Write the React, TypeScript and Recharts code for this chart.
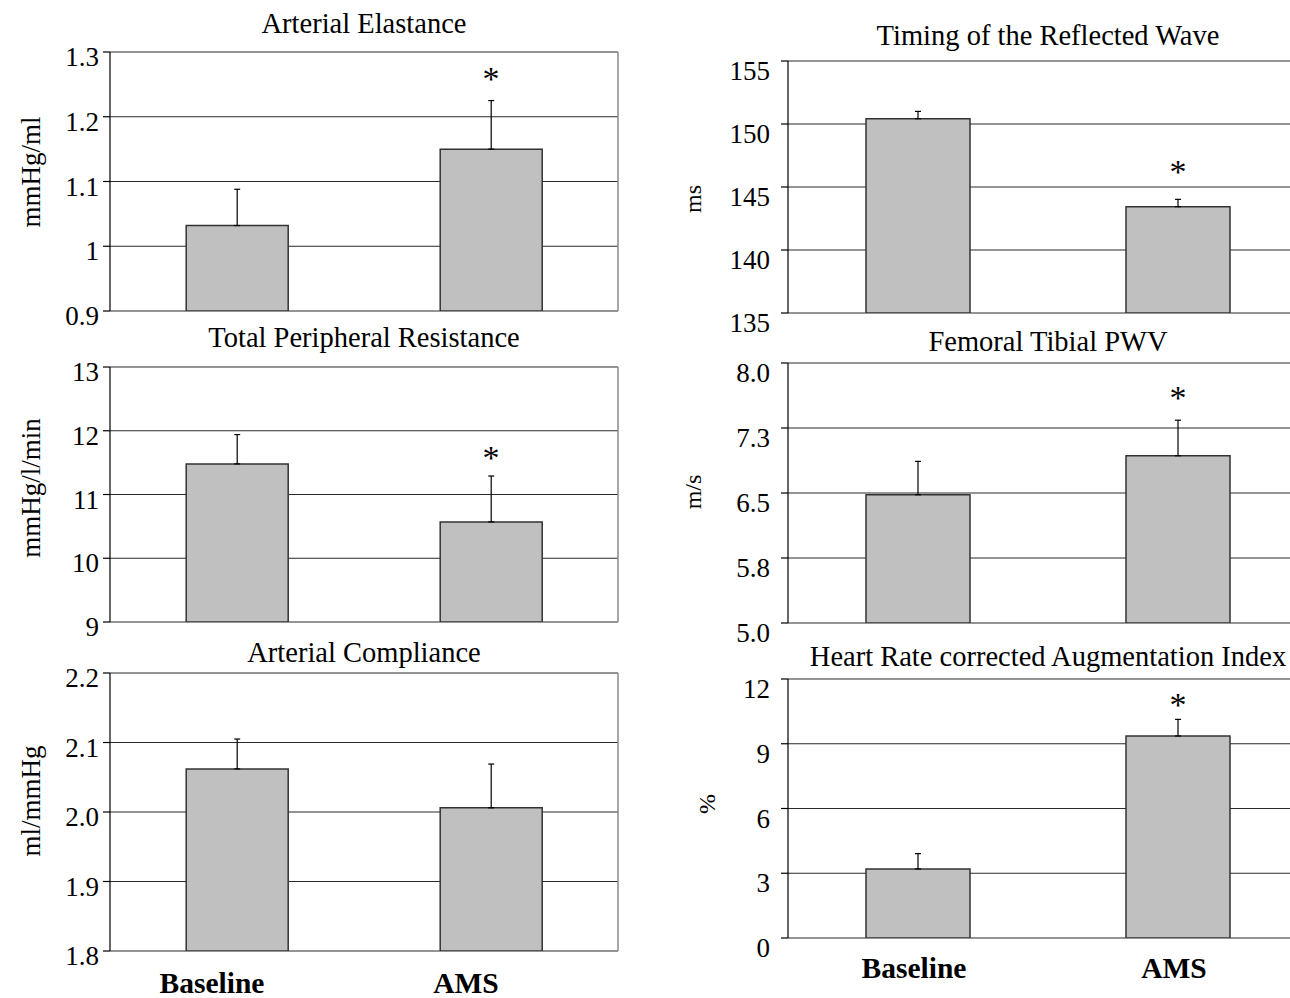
import React from 'react';
import { ComposedChart, Bar, ErrorBar, XAxis, YAxis, CartesianGrid, Scatter } from 'recharts';

const FONT = '"Liberation Serif", "Times New Roman", Times, serif';

// ---------- data ----------
const categories = ['Baseline', 'AMS'];

const elastanceMean = [1.032, 1.15];
const elastanceErr = [0.056, 0.075];
const elastanceSig = [null, 1.268];
const elastanceTicks = [0.9, 1.0, 1.1, 1.2, 1.3];
const elastanceTickLabels = ['0.9', '1', '1.1', '1.2', '1.3'];

const tprMean = [11.48, 10.57];
const tprErr = [0.46, 0.72];
const tprSig = [null, 11.67];
const tprTicks = [9, 10, 11, 12, 13];
const tprTickLabels = ['9', '10', '11', '12', '13'];

const complianceMean = [2.062, 2.006];
const complianceErr = [0.043, 0.063];
const complianceSig = [null, null];
const complianceTicks = [1.8, 1.9, 2.0, 2.1, 2.2];
const complianceTickLabels = ['1.8', '1.9', '2.0', '2.1', '2.2'];

const timingMean = [150.42, 143.44];
const timingErr = [0.58, 0.58];
const timingSig = [null, 146.7];
const timingTicks = [135, 140, 145, 150, 155];
const timingTickLabels = ['135', '140', '145', '150', '155'];

const pwvMean = [6.48, 6.93];
const pwvErr = [0.385, 0.41];
const pwvSig = [null, 7.66];
const pwvTicks = [5, 5.75, 6.5, 7.25, 8];
const pwvTickLabels = ['5.0', '5.8', '6.5', '7.3', '8.0'];

const aixMean = [3.2, 9.36];
const aixErr = [0.71, 0.77];
const aixSig = [null, 11.06];
const aixTicks = [0, 3, 6, 9, 12];
const aixTickLabels = ['0', '3', '6', '9', '12'];

const buildRows = (mean: number[], err: number[], sig: (number | null)[]) =>
  categories.map((name, i) => ({ name, value: mean[i], err: [0, err[i]], sig: sig[i] }));

// ---------- components ----------
const makeYTick = (ticks: number[], labels: string[], dy: number, fontSize: number) => (props: any) => {
  const { x, y, payload } = props;
  const idx = ticks.findIndex((t) => Math.abs(t - payload.value) < 1e-9);
  const label = idx >= 0 ? labels[idx] : String(payload.value);
  return (
    <text x={x} y={y + dy} textAnchor="end" dominantBaseline="central" fontSize={fontSize} fontFamily={FONT} fill="#000">
      {label}
    </text>
  );
};

const makeXTick = (dx: number, dy: number) => (props: any) => {
  const { x, y, payload } = props;
  return (
    <text x={x + dx} y={y + dy} textAnchor="middle" dominantBaseline="central" fontSize={29.5} fontWeight="bold" fontFamily={FONT} fill="#000">
      {payload.value}
    </text>
  );
};

const SigShape = (props: any) => {
  const { cx, cy, payload } = props;
  if (payload == null || payload.sig == null || !isFinite(cx) || !isFinite(cy)) return <g />;
  const fs = 34;
  return (
    <text x={cx} y={cy + 0.5 * fs} textAnchor="middle" fontSize={fs} fontFamily={FONT} fill="#000">
      *
    </text>
  );
};

type PanelProps = {
  rows: any[];
  ticks: number[];
  labels: string[];
  left: number;
  plotLeft: number;
  plotRight: number;
  width: number;
  plotTop: number;
  plotBottom: number;
  showX: boolean;
  tickDy: number;
  tickMargin: number;
  xDx: number;
  xDy: number;
};

const Panel = (p: PanelProps) => {
  const yAxisWidth = 70;
  const topPad = 24;
  const xHeight = p.showX ? 60 : 0;
  const bottomPad = p.showX ? 0 : 30;
  const plotH = p.plotBottom - p.plotTop;
  const height = topPad + plotH + xHeight + bottomPad;
  const marginLeft = p.plotLeft - p.left - yAxisWidth;
  const marginRight = p.left + p.width - p.plotRight;
  return (
    <div style={{ position: 'absolute', left: p.left, top: p.plotTop - topPad, width: p.width, height }}>
      <ComposedChart
        width={p.width}
        height={height}
        data={p.rows}
        margin={{ top: topPad, right: marginRight, bottom: bottomPad, left: marginLeft }}
        barCategoryGap="30%"
      >
        <CartesianGrid vertical={false} stroke="#2a2a2a" strokeWidth={1.2} />
        <CartesianGrid
          horizontal={false}
          stroke="#8a8a8a"
          strokeWidth={1.5}
          verticalCoordinatesGenerator={(args: any) => [args.offset.left + args.offset.width]}
        />
        <XAxis
          dataKey="name"
          type="category"
          hide={!p.showX}
          height={xHeight}
          axisLine={false}
          tickLine={false}
          tickSize={0}
          tickMargin={0}
          tick={makeXTick(p.xDx, p.xDy)}
          interval={0}
        />
        <YAxis
          type="number"
          width={yAxisWidth}
          domain={[p.ticks[0], p.ticks[p.ticks.length - 1]]}
          ticks={p.ticks}
          interval={0}
          allowDataOverflow
          axisLine={{ stroke: '#000', strokeWidth: 1.2 }}
          tickLine={{ stroke: '#000', strokeWidth: 1.2 }}
          tickSize={7}
          tickMargin={p.tickMargin}
          tick={makeYTick(p.ticks, p.labels, p.tickDy, 27)}
        />
        <Bar dataKey="value" fill="#c0c0c0" stroke="#333" strokeWidth={1.5} isAnimationActive={false}>
          <ErrorBar dataKey="err" width={3} stroke="#000" strokeWidth={1.2} direction="y" />
        </Bar>
        <Scatter dataKey="sig" isAnimationActive={false} shape={SigShape} />
      </ComposedChart>
    </div>
  );
};

const L = { left: 0, width: 640, plotLeft: 110, plotRight: 618, tickDy: 5, tickMargin: 4, xDx: -25, xDy: 32 };
const R = { left: 640, width: 700, plotLeft: 788, plotRight: 1308, tickDy: 10, tickMargin: 11, xDx: -4, xDy: 30 };

export default function App() {
  const titleStyle = { fontFamily: FONT, fontSize: 28.5, fill: '#000' } as const;
  return (
    <div style={{ position: 'absolute', left: 0, top: 0, width: 1290, height: 998, overflow: 'hidden', background: '#fff' }}>
      <Panel {...L} rows={buildRows(elastanceMean, elastanceErr, elastanceSig)} ticks={elastanceTicks} labels={elastanceTickLabels} plotTop={52} plotBottom={311} showX={false} />
      <Panel {...L} rows={buildRows(tprMean, tprErr, tprSig)} ticks={tprTicks} labels={tprTickLabels} plotTop={367} plotBottom={622} showX={false} />
      <Panel {...L} rows={buildRows(complianceMean, complianceErr, complianceSig)} ticks={complianceTicks} labels={complianceTickLabels} plotTop={673} plotBottom={951} showX={true} />
      <Panel {...R} rows={buildRows(timingMean, timingErr, timingSig)} ticks={timingTicks} labels={timingTickLabels} plotTop={61} plotBottom={313} showX={false} />
      <Panel {...R} rows={buildRows(pwvMean, pwvErr, pwvSig)} ticks={pwvTicks} labels={pwvTickLabels} plotTop={363} plotBottom={623} showX={false} />
      <Panel {...R} rows={buildRows(aixMean, aixErr, aixSig)} ticks={aixTicks} labels={aixTickLabels} plotTop={679} plotBottom={938} showX={true} />
      <svg width={1290} height={998} style={{ position: 'absolute', left: 0, top: 0, pointerEvents: 'none' }}>
        <text x={364} y={23} textAnchor="middle" dominantBaseline="central" {...titleStyle}>Arterial Elastance</text>
        <text x={364} y={337} textAnchor="middle" dominantBaseline="central" {...titleStyle}>Total Peripheral Resistance</text>
        <text x={364} y={652} textAnchor="middle" dominantBaseline="central" {...titleStyle}>Arterial Compliance</text>
        <text x={1048} y={35} textAnchor="middle" dominantBaseline="central" {...titleStyle}>Timing of the Reflected Wave</text>
        <text x={1048} y={341} textAnchor="middle" dominantBaseline="central" {...titleStyle}>Femoral Tibial PWV</text>
        <text x={1048} y={656} textAnchor="middle" dominantBaseline="central" {...titleStyle}>Heart Rate corrected Augmentation Index</text>

        <text transform="translate(31,172) rotate(-90)" textAnchor="middle" dominantBaseline="central" fontFamily={FONT} fontSize={27}>mmHg/ml</text>
        <text transform="translate(31,488) rotate(-90)" textAnchor="middle" dominantBaseline="central" fontFamily={FONT} fontSize={27}>mmHg/l/min</text>
        <text transform="translate(31,801) rotate(-90)" textAnchor="middle" dominantBaseline="central" fontFamily={FONT} fontSize={27}>ml/mmHg</text>
        <text transform="translate(693,199) rotate(-90)" textAnchor="middle" dominantBaseline="central" fontFamily={FONT} fontSize={24}>ms</text>
        <text transform="translate(693,492) rotate(-90)" textAnchor="middle" dominantBaseline="central" fontFamily={FONT} fontSize={24}>m/s</text>
        <text transform="translate(707,804) rotate(-90)" textAnchor="middle" dominantBaseline="central" fontFamily={FONT} fontSize={24}>%</text>
      </svg>
    </div>
  );
}
